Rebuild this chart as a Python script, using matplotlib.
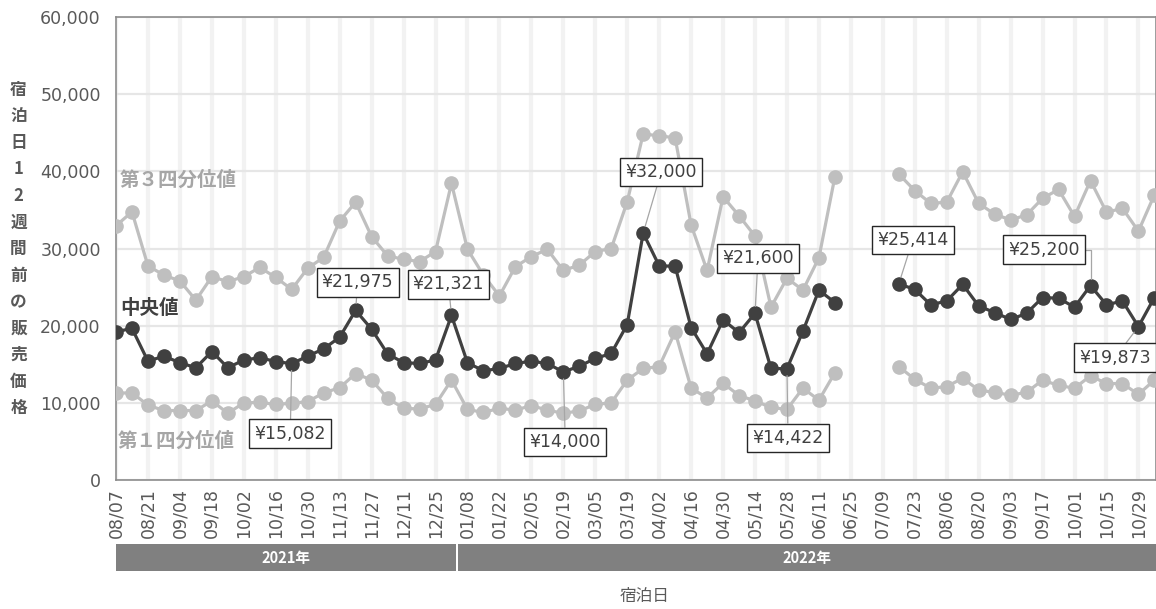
import numpy as np
import matplotlib
matplotlib.use("Agg")
import matplotlib.pyplot as plt
from matplotlib.patches import Rectangle
from matplotlib.transforms import blended_transform_factory

plt.rcParams['font.family'] = ['DejaVu Sans', 'Noto Sans CJK JP']

nan = np.nan

# Weekly stay dates (one point per week), labels shown every two weeks
tick_labels = ["08/07", "08/21", "09/04", "09/18", "10/02", "10/16", "10/30",
               "11/13", "11/27", "12/11", "12/25",
               "01/08", "01/22", "02/05", "02/19", "03/05", "03/19", "04/02",
               "04/16", "04/30", "05/14", "05/28", "06/11", "06/25", "07/09",
               "07/23", "08/06", "08/20", "09/03", "09/17", "10/01", "10/15",
               "10/29"]

# Third quartile of the selling price 12 weeks before the stay date
q3 = [32950, 34750, 27750, 26550, 25800, 23300, 26350, 25700, 26350, 27550,
      26250, 24700, 27450, 28850, 33550, 36000, 31550, 29050, 28600, 28300,
      29600, 38450,
      29900, 26550, 23850, 27650, 28950, 29900, 27150, 27850, 29600, 30000,
      36050, 44850, 44600, 44350, 33050, 27150, 36700, 34250, 31600, 22400,
      26150, 24600, 28800, 39300,
      nan, nan, nan,
      39650, 37500, 35850, 36000, 39950, 35850, 34450, 33700, 34350, 36500,
      37650, 34150, 38800, 34700, 35200, 32250, 36950]

# Median
median = [19200, 19650, 15400, 16050, 15200, 14550, 16650, 14550, 15550, 15850,
          15350, 15082, 16050, 17000, 18500, 21975, 19550, 16350, 15200, 15100,
          15550, 21321,
          15200, 14150, 14450, 15100, 15400, 15100, 14000, 14750, 15750, 16400,
          20150, 32000, 27750, 27700, 19750, 16350, 20750, 19100, 21600, 14450,
          14422, 19300, 24600, 23000,
          nan, nan, nan,
          25414, 24700, 22700, 23200, 25350, 22550, 21700, 20800, 21600, 23650,
          23550, 22400, 25200, 22700, 23200, 19873, 23650]

# First quartile
q1 = [11250, 11300, 9700, 9000, 9000, 9000, 10250, 8650, 10000, 10050,
      9800, 9950, 10150, 11300, 11950, 13800, 12950, 10600, 9300, 9200,
      9800, 12950,
      9150, 8750, 9300, 9050, 9650, 9050, 8650, 8950, 9800, 10000,
      12950, 14450, 14700, 19200, 11900, 10650, 12550, 10950, 10250, 9400,
      9150, 11900, 10350, 13900,
      nan, nan, nan,
      14700, 13050, 11900, 12100, 13200, 11650, 11350, 11000, 11350, 12950,
      12250, 11900, 13500, 12500, 12500, 11100, 12950]

years = ["2021年", "2022年"]
year_split = 21.33          # week position where the year band changes

# Labelled median points: (week index, text offset in pixels, leader style)
callouts = [(11, (-1.5, -70), None), (15, (2, 28), None), (21, (-3, 31), None),
            (28, (2, -70), None), (33, (18, 61), None), (40, (3, 55), None),
            (42, (1, -69), None), (49, (14, 44), None),
            (61, (-46.5, 36), "elbow"), (64, (-23.5, -31), None)]

W, H = 1156, 609
fig = plt.figure(figsize=(W / 100, H / 100), dpi=100)
ax = fig.add_axes([116 / W, 1 - 480 / H, (W - 116) / W, (480 - 17) / H])

x = np.arange(len(median))
light = "#BFBFBF"
dark = "#404040"
txt = "#595959"

ax.plot(x, q3, color=light, lw=2.3, marker="o", ms=9.5, zorder=3)
ax.plot(x, q1, color=light, lw=2.3, marker="o", ms=9.5, zorder=3)
ax.plot(x, median, color=dark, lw=2.3, marker="o", ms=9.5, zorder=4)

ax.set_xlim(0, 65.1)
ax.set_ylim(0, 60000)
ax.set_yticks(np.arange(0, 60001, 10000))
ax.yaxis.set_major_formatter(matplotlib.ticker.FuncFormatter(lambda v, p: f"{int(v):,}"))
ax.set_xticks(np.arange(0, 2 * len(tick_labels), 2))
ax.set_xticklabels(tick_labels, rotation=90)
ax.tick_params(axis="both", length=0, labelcolor=txt, labelsize=12.5)
ax.tick_params(axis="y", pad=11)
ax.tick_params(axis="x", pad=6)

ax.grid(axis="x", color="#F2F2F2", lw=3, zorder=0)
ax.grid(axis="y", color="#E6E6E6", lw=1.6, zorder=0)
ax.set_axisbelow(True)
for s in ax.spines.values():
    s.set_color("#8C8C8C")
    s.set_linewidth(1.2)

# Callout boxes on the median line
for i, (dx, dy), style in callouts:
    v = median[i]
    arrow = dict(arrowstyle="-", color="#A6A6A6", lw=0.9, shrinkA=0, shrinkB=5)
    if style == "elbow":
        arrow.update(connectionstyle="angle,angleA=0,angleB=90,rad=0",
                     relpos=(1.0, 0.5))
    ax.annotate(f"¥{v:,}", xy=(i, v), xytext=(dx, dy), textcoords="offset pixels",
                ha="center", va="center", fontsize=12.5, color=dark,
                bbox=dict(boxstyle="square,pad=0.3", fc="white", ec="#262626", lw=1),
                arrowprops=arrow, zorder=6)

# Series names
ax.text(4 / 1040, (480 - 180) / 463, "第３四分位値", transform=ax.transAxes,
        fontsize=14, fontweight="bold", color="#A6A6A6", va="center", ha="left",
        family=["Noto Sans CJK JP"])
ax.text(4 / 1040, (480 - 308) / 463, "中央値", transform=ax.transAxes,
        fontsize=14, fontweight="bold", color=dark, va="center", ha="left",
        family=["Noto Sans CJK JP"])
ax.text(2 / 1040, (480 - 441) / 463, "第１四分位値", transform=ax.transAxes,
        fontsize=14, fontweight="bold", color="#A6A6A6", va="center", ha="left",
        family=["Noto Sans CJK JP"])

# Vertical y-axis title, one character per line
ylabel = "宿泊日12週間前の販売価格"
for k, ch in enumerate(ylabel):
    fig.text(18.5 / W, 1 - (90 + 26.5 * k) / H, ch, ha="center", va="center",
             fontsize=12, fontweight="bold", color=txt,
             family=["Noto Sans CJK JP", "DejaVu Sans"])

# Year bands under the date labels
tr = blended_transform_factory(ax.transData, fig.transFigure)
band_y0 = 1 - 571 / H
band_h = 27 / H
gap = 0.07
spans = [(0, year_split - gap), (year_split + gap, 65.1)]
for (a, b), name in zip(spans, years):
    fig.patches.append(Rectangle((a, band_y0), b - a, band_h, transform=tr,
                                 facecolor="#808080", edgecolor="none"))
    fig.text((a + b) / 2, band_y0 + band_h / 2, name, transform=tr,
             ha="center", va="center", color="white", fontsize=10.5,
             fontweight="bold", family=["Noto Sans CJK JP"])

fig.text(645 / W, 1 - 597 / H, "宿泊日", ha="center", va="center",
         fontsize=12, color=txt, family=["Noto Sans CJK JP"])

fig.savefig("out.png", dpi=100)
